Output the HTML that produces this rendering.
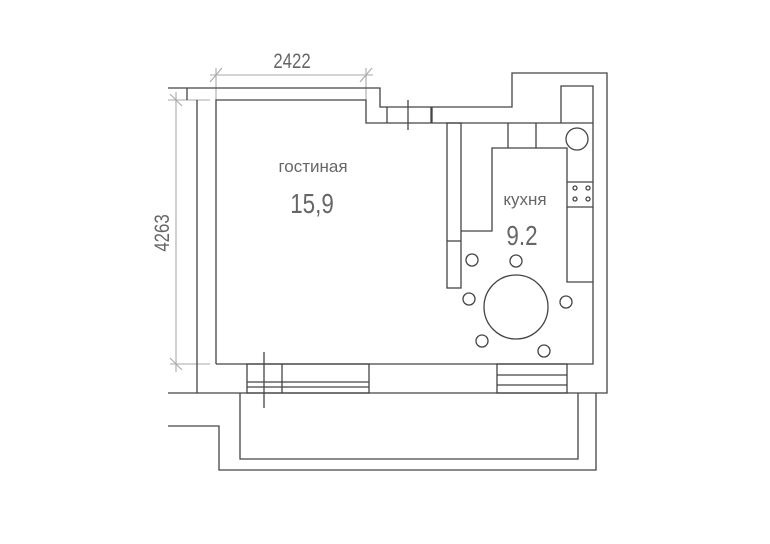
<!DOCTYPE html>
<html><head><meta charset="utf-8"><style>
html,body{margin:0;padding:0;background:#fff;width:770px;height:544px;overflow:hidden}
svg{display:block}
.w{stroke:#444;stroke-width:1.3;fill:none}
.g{stroke:#aaa;stroke-width:1.1;fill:none}
text{font-family:"Liberation Sans",sans-serif;fill:#666}
</style></head><body>
<svg width="770" height="544" viewBox="0 0 770 544" xmlns="http://www.w3.org/2000/svg">
<g class="g">
<line x1="210" y1="75" x2="373" y2="75"/>
<line x1="216" y1="68" x2="216" y2="100"/>
<line x1="366" y1="68" x2="366" y2="100"/>
<line x1="210" y1="82" x2="222" y2="68"/>
<line x1="360" y1="82" x2="372" y2="68"/>
<line x1="176" y1="92" x2="176" y2="372"/>
<line x1="168" y1="100" x2="210" y2="100"/>
<line x1="170" y1="364" x2="210" y2="364"/>
<line x1="170" y1="94" x2="182" y2="106"/>
<line x1="170" y1="358" x2="182" y2="370"/>
</g>
<text x="292" y="68" font-size="21" text-anchor="middle" transform="translate(292,0) scale(0.8,1) translate(-292,0)">2422</text>
<text x="0" y="0" font-size="21" text-anchor="middle" transform="translate(169,233) rotate(-90) scale(0.8,1)">4263</text>
<g class="w">
<polyline points="168,88 380,88 380,107 512,107 512,73 607,73 607,393 168,393"/>
<line x1="187" y1="88" x2="187" y2="100"/>
<line x1="197" y1="100" x2="197" y2="393"/>
<polyline points="216,364 216,100 366,100 366,123 593,123"/>
<line x1="387" y1="107" x2="387" y2="123"/>
<line x1="431" y1="107" x2="431" y2="123"/>
<line x1="432" y1="107" x2="432" y2="123"/>
<line x1="408" y1="100" x2="408" y2="130"/>
<polyline points="561,123 561,86 593,86 593,364 216,364"/>
<rect x="447" y="123" width="14" height="165"/>
<line x1="447" y1="241" x2="461" y2="241"/>
<polyline points="461,231 492,231 492,148 567,148 567,282 593,282"/>
<line x1="508" y1="123" x2="508" y2="148"/>
<line x1="536" y1="123" x2="536" y2="148"/>
<line x1="567" y1="182" x2="593" y2="182"/>
<line x1="567" y1="207" x2="593" y2="207"/>
<circle cx="577" cy="139" r="11"/>
<circle cx="575" cy="188" r="2"/><circle cx="588" cy="188" r="2"/>
<circle cx="575" cy="199" r="2"/><circle cx="588" cy="199" r="2"/>
<circle cx="516" cy="307" r="32"/>
<circle cx="472" cy="260" r="6"/><circle cx="516" cy="261" r="6"/>
<circle cx="469" cy="299" r="6"/><circle cx="566" cy="302" r="6"/>
<circle cx="482" cy="341" r="6"/><circle cx="544" cy="351" r="6"/>
<rect x="247" y="364" width="122" height="29"/>
<line x1="282" y1="364" x2="282" y2="393"/>
<line x1="247" y1="382" x2="369" y2="382"/>
<line x1="247" y1="387" x2="369" y2="387"/>
<line x1="264" y1="352" x2="264" y2="408"/>
<rect x="497" y="364" width="70" height="29"/>
<line x1="497" y1="375" x2="567" y2="375"/>
<line x1="497" y1="385" x2="567" y2="385"/>
<polyline points="240,393 240,459 578,459 578,393"/>
<polyline points="168,426 219,426 219,470 596,470 596,393"/>
</g>
<text x="313" y="172" font-size="17" text-anchor="middle">гостиная</text>
<text x="312" y="213" font-size="28" text-anchor="middle" transform="translate(312,0) scale(0.8,1) translate(-312,0)">15,9</text>
<text x="525" y="205" font-size="17" text-anchor="middle">кухня</text>
<text x="522" y="245" font-size="28" text-anchor="middle" transform="translate(522,0) scale(0.8,1) translate(-522,0)">9.2</text>
</svg>
</body></html>
